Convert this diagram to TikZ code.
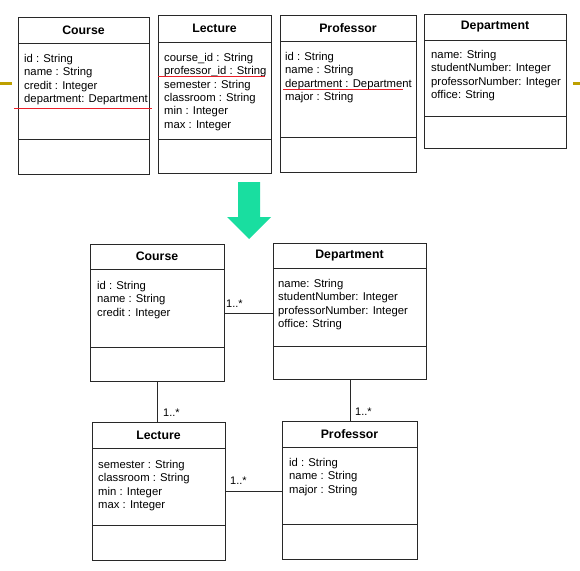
\documentclass[tikz,border=0pt]{standalone}
\usepackage{fontspec}
\setmainfont{Liberation Sans}
\definecolor{boxc}{RGB}{40,40,40}
\definecolor{redl}{RGB}{235,30,40}
\definecolor{olivec}{RGB}{190,160,0}
\definecolor{arrowc}{RGB}{25,222,160}
\tikzset{
  classbox/.style={draw=boxc, line width=0.8pt, inner sep=0pt, fill=white},
  boxline/.style={draw=boxc, line width=0.8pt},
  classtitle/.style={font=\fontsize{12.3}{14}\selectfont\bfseries, inner sep=0pt},
  attrs/.style={font=\fontsize{11.3}{13.4}\selectfont, align=left, inner sep=0pt, anchor=north west},
  mult/.style={font=\fontsize{11}{13}\selectfont, inner sep=0pt, anchor=west},
  conn/.style={draw=boxc, line width=0.8pt},
  redline/.style={draw=redl, line width=1pt},
  olivemark/.style={draw=olivec, line width=3pt}
}
% #1 name, #2 left, #3 top, #4 right, #5 bottom, #6 header y, #7 separator y, #8 title
\newcommand\umlclass[8]{%
  \node[classbox, minimum width={(#4-(#2))*1pt}, minimum height={(#5-(#3))*1pt}, anchor=north west] (#1) at (#2,#3) {};
  \draw[boxline] (#2,#6) -- (#4,#6);
  \draw[boxline] (#2,#7) -- (#4,#7);
  \node[classtitle] (#1-t) at ({(#2+#4)/2},{(#3+#6)/2}) {#8};
}
\begin{document}
\begin{tikzpicture}[x=1pt,y=-1pt]
\useasboundingbox (0,0) rectangle (580,570);
\fill[white] (0,0) rectangle (580,570);

% ---------- top row ----------
\umlclass{tc}{18}{17}{149}{174}{43}{139}{Course}
\node[attrs] (tc-a) at (24,54) {id : String\\name : String\\credit : Integer\\department: Department};
\umlclass{tl}{158}{15}{271}{173}{42}{139}{Lecture}
\node[attrs] (tl-a) at (164,53) {course\_id : String\\professor\_id : String\\semester : String\\classroom : String\\min : Integer\\max : Integer};
\umlclass{tp}{280}{15}{416}{172}{41}{137}{Professor}
\node[attrs] (tp-a) at (285,52) {id : String\\name : String\\department : Department\\major : String};
\umlclass{td}{424}{14}{566}{148}{40}{116}{Department}
\node[attrs] (td-a) at (431,50) {name: String\\studentNumber: Integer\\professorNumber: Integer\\office: String};

\draw[redline] (14,108) -- (152,108);
\draw[redline] (158,76.5) -- (265,76.5);
\draw[redline] (283,89.5) -- (403,89.5);

\draw[olivemark] (0,83) -- (12,83);
\draw[olivemark] (573,83) -- (580,83);

% ---------- arrow ----------
\fill[arrowc] (238,182) -- (260,182) -- (260,217) -- (271,217) -- (249,239) -- (227,217) -- (238,217) -- cycle;

% ---------- bottom ----------
\umlclass{bc}{90}{244}{224}{381}{269}{347}{Course}
\node[attrs] (bc-a) at (97,281) {id : String\\name : String\\credit : Integer};
\umlclass{bd}{273}{243}{426}{379}{268}{346}{Department}
\node[attrs] (bd-a) at (278,279) {name: String\\studentNumber: Integer\\professorNumber: Integer\\office: String};
\umlclass{bl}{92}{422}{225}{560}{448}{525}{Lecture}
\node[attrs] (bl-a) at (98,460) {semester : String\\classroom : String\\min : Integer\\max : Integer};
\umlclass{bp}{282}{421}{417}{559}{447}{524}{Professor}
\node[attrs] (bp-a) at (289,458) {id : String\\name : String\\major : String};

\draw[conn] (bc.east) -- (bd.west |- bc.east);
\draw[conn] (bc.south) -- (bl.north -| bc.south);
\draw[conn] (bd.south) -- (bp.north -| bd.south);
\draw[conn] (bl.east) -- (bp.west |- bl.east);

\node[mult] (m1) at (226,304) {1..*};
\node[mult] (m2) at (163,413) {1..*};
\node[mult] (m3) at (355,412) {1..*};
\node[mult] (m4) at (230,481) {1..*};
\end{tikzpicture}
\end{document}
